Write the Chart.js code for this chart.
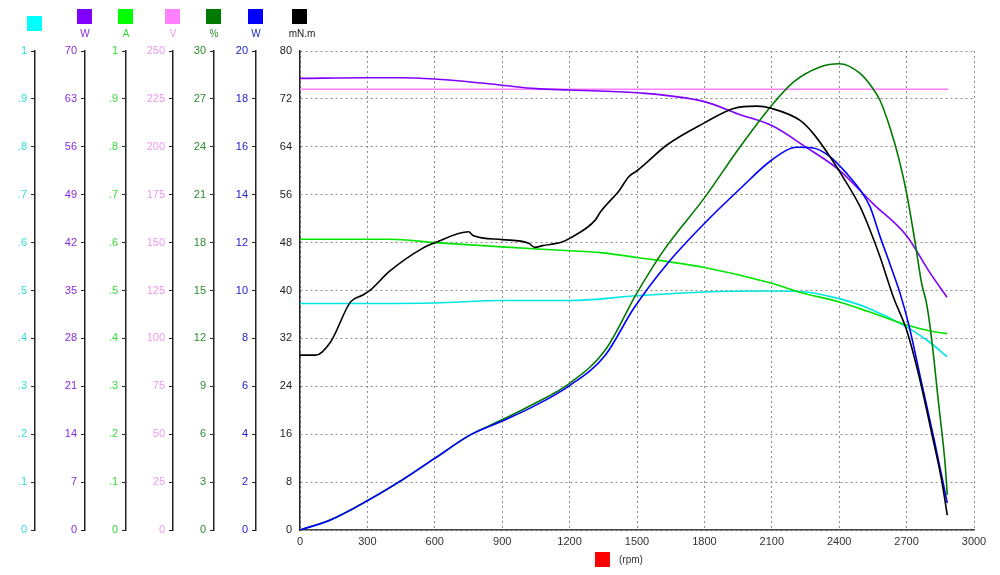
<!DOCTYPE html>
<html>
<head>
<meta charset="utf-8">
<script src="https://cdn.jsdelivr.net/npm/chart.js@4.4.1/dist/chart.umd.min.js"></script>
<style>
  html, body { margin: 0; padding: 0; background: #fff; }
  #wrap { width: 1000px; height: 575px; }
</style>
</head>
<body>
<div id="wrap"><canvas id="chart" width="1000" height="575"></canvas></div>
<script>
// curves, each with its own rpm samples
var cyanRpm = [0, 300, 600, 900, 1200, 1500, 1800, 2100, 2250, 2400, 2530, 2700, 2800, 2880];
var cyanVal = [0.473, 0.473, 0.474, 0.479, 0.479, 0.489, 0.497, 0.499, 0.497, 0.483, 0.463, 0.424, 0.393, 0.362];

var powerInRpm = [0, 300, 450, 600, 750, 900, 1050, 1200, 1500, 1800, 1950, 2100, 2250, 2400, 2550, 2700, 2800, 2880];
var powerIn = [66.0, 66.1, 66.1, 65.9, 65.5, 65.0, 64.5, 64.3, 63.9, 62.6, 60.8, 59.1, 56.0, 52.6, 47.7, 43.0, 37.8, 34.0];

var currentRpm = [0, 400, 600, 900, 1200, 1337, 1500, 1800, 2100, 2220, 2400, 2530, 2700, 2800, 2880];
var current = [0.607, 0.607, 0.600, 0.591, 0.583, 0.579, 0.569, 0.548, 0.515, 0.497, 0.476, 0.456, 0.428, 0.416, 0.41];

var voltRpm = [0, 1500, 2885];
var volt = [230, 230, 230];

var effRpm = [0, 136, 300, 455, 600, 758, 900, 1033, 1200, 1359, 1500, 1618, 1800, 1959, 2100, 2196, 2315, 2400, 2493, 2545, 2582, 2626, 2663, 2700, 2738, 2767, 2790, 2812, 2841, 2871, 2881];
var eff = [0, 0.64, 1.84, 3.13, 4.5, 5.96, 6.9, 7.84, 9.19, 11.27, 14.85, 17.5, 20.8, 24.0, 26.6, 28.05, 29.0, 29.2, 28.6, 27.75, 26.9, 25.2, 23.4, 21.1, 18.0, 15.45, 14.1, 11.9, 8.1, 4.2, 2.2];

var powerOutRpm = [0, 136, 300, 455, 600, 758, 900, 1033, 1200, 1359, 1485, 1633, 1800, 1959, 2100, 2212, 2285, 2360, 2434, 2493, 2537, 2582, 2626, 2671, 2708, 2767, 2826, 2881];
var powerOut = [0, 0.42, 1.22, 2.09, 2.99, 3.97, 4.55, 5.13, 6.03, 7.3, 9.25, 11.1, 12.8, 14.25, 15.45, 15.98, 15.95, 15.58, 14.88, 14.2, 13.5, 12.25, 11.1, 9.88, 8.63, 6.13, 3.63, 1.12];

var torqueRpm = [0, 70, 136, 225, 277, 314, 395, 543, 603, 751, 770, 900, 1018, 1045, 1080, 1166, 1200, 1314, 1337, 1423, 1463, 1500, 1529, 1633, 1800, 1930, 2033, 2100, 2226, 2285, 2360, 2434, 2493, 2537, 2582, 2641, 2700, 2752, 2812, 2856, 2881];
var torque = [29.2, 29.2, 31.4, 38.1, 39.2, 40.1, 43.1, 47.0, 48.0, 49.8, 49.2, 48.5, 47.9, 47.2, 47.5, 48.1, 48.7, 51.75, 53.1, 56.8, 59.0, 60.0, 60.9, 64.3, 68.0, 70.4, 70.8, 70.4, 68.4, 66.2, 62.3, 57.9, 54.0, 50.1, 45.6, 38.9, 33.4, 26.2, 16.1, 8.3, 2.5];

var xTicksMax = 3000;

function pts(xs, ys) {
    return xs.map(function (x, i) { return { x: x, y: ys[i] }; });
}

var FONT = "'Liberation Sans', Arial, sans-serif";
var axisKeys = ['yCyan', 'yW1', 'yA', 'yV', 'yPct', 'yW2', 'yT'];
var axisUnits = ['', 'W', 'A', 'V', '%', 'W', 'mN.m'];
var axisColors = ['#00ffff', '#8000ff', '#00ff00', '#ff80ff', '#007a00', '#0000ff', '#000000'];
var labelColors = ['#33dddd', '#8a2be2', '#33dd33', '#ee99ee', '#2e8b2e', '#2222cc', '#222222'];
var axisWidths = [35, 50, 41, 47, 41, 42, 44];
var axisMax = [1, 70, 1, 250, 30, 20, 80];

function fracLabel(v) {
    if (v === 0) return '0';
    if (v >= 1) return '1';
    return v.toFixed(1).replace(/^0/, '');
}

var scales = {
    x: {
        type: 'linear',
        min: 0,
        max: xTicksMax,
        ticks: {
            stepSize: 300, color: '#333', font: { family: FONT, size: 11 }, padding: 5, maxRotation: 0,
            callback: function (v) { return String(v); }
        },
        grid: { color: '#8a8a8a', drawTicks: false, lineWidth: 1 },
        border: { display: true, color: '#444', width: 1.5, dash: [2, 3] },
        afterFit: function (s) { s.height = 22; }
    }
};

axisKeys.forEach(function (k, i) {
    var isMain = k === 'yT';
    var max = axisMax[i];
    scales[k] = {
        type: 'linear',
        position: 'left',
        weight: axisKeys.length - 1 - i,
        min: 0,
        max: max,
        ticks: {
            stepSize: max / 10,
            color: labelColors[i],
            font: { family: FONT, size: 11 },
            padding: isMain ? 8 : 4,
            callback: (max === 1) ? fracLabel : function (v) { return Math.round(v); }
        },
        grid: isMain
            ? { color: '#8a8a8a', drawTicks: false, lineWidth: 1 }
            : { drawOnChartArea: false, drawTicks: true, tickLength: 4, color: '#222', lineWidth: 1 },
        border: isMain
            ? { display: true, color: '#222', width: 1.5, dash: [2, 3] }
            : { display: true, color: '#222', width: 1.5 },
        afterFit: function (s) { s.width = axisWidths[i]; }
    };
});

var unitPlugin = {
    id: 'units',
    afterDraw: function (chart) {
        var ctx = chart.ctx;
        ctx.save();
        axisKeys.forEach(function (k, i) {
            var s = chart.scales[k];
            var x = s.right;
            var top = axisUnits[i] ? 9 : 16;
            ctx.fillStyle = axisColors[i];
            ctx.fillRect(Math.round(x - 8), top, 15, 15);
            if (axisUnits[i]) {
                ctx.fillStyle = k === 'yT' ? '#222' : labelColors[i];
                ctx.font = '10px ' + FONT;
                ctx.textAlign = 'center';
                ctx.textBaseline = 'middle';
                ctx.fillText(axisUnits[i], x + (k === 'yT' ? 2 : 0), 34);
            }
        });
        var xs = chart.scales.x;
        var cx = (xs.left + xs.right) / 2;
        ctx.fillStyle = '#ff0000';
        ctx.fillRect(Math.round(cx - 42), 552, 15, 15);
        ctx.fillStyle = '#333';
        ctx.font = '10px ' + FONT;
        ctx.textAlign = 'left';
        ctx.textBaseline = 'middle';
        ctx.fillText('(rpm)', cx - 18, 560);
        ctx.restore();
    }
};

function line(data, color, axis) {
    return {
        data: data,
        yAxisID: axis,
        borderColor: color,
        backgroundColor: color,
        borderWidth: 1.6,
        pointRadius: 0,
        fill: false,
        cubicInterpolationMode: 'monotone'
    };
}

new Chart(document.getElementById('chart').getContext('2d'), {
    type: 'line',
    data: {
        datasets: [
            line(pts(torqueRpm, torque), '#000000', 'yT'),
            line(pts(powerOutRpm, powerOut), '#0000ff', 'yW2'),
            line(pts(effRpm, eff), '#007a00', 'yPct'),
            line(pts(powerInRpm, powerIn), '#8000ff', 'yW1'),
            line(pts(voltRpm, volt), '#ff80ff', 'yV'),
            line(pts(currentRpm, current), '#00e600', 'yA'),
            line(pts(cyanRpm, cyanVal), '#00e5e5', 'yCyan')
        ]
    },
    options: {
        responsive: false,
        animation: false,
        layout: { padding: { top: 51, right: 26, bottom: 23, left: 0 } },
        plugins: { legend: { display: false }, tooltip: { enabled: false } },
        scales: scales
    },
    plugins: [unitPlugin]
});
</script>
</body>
</html>
